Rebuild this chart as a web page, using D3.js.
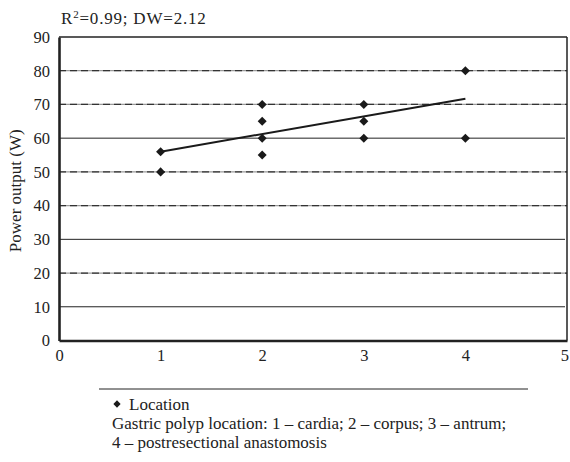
<!DOCTYPE html>
<html>
<head>
<meta charset="utf-8">
<script src="https://cdn.jsdelivr.net/npm/d3@7"></script>
<style>
  html, body { margin: 0; padding: 0; background: #fff; }
</style>
</head>
<body>
<svg id="chart" width="570" height="462"></svg>
<script>
// Polyp location (1-4) vs. power output (W)
const locations = [1, 1, 2, 2, 2, 2, 3, 3, 3, 4, 4];
const powerOutput = [56, 50, 70, 65, 60, 55, 70, 65, 60, 80, 60];
const trendX = [1, 4];
const trendY = [56, 71.7];
const xTicks = [0, 1, 2, 3, 4, 5];
const yTicks = [0, 10, 20, 30, 40, 50, 60, 70, 80, 90];
const dashedGrid = [20, 40, 50, 70, 80];
const legendLines = [
  "Gastric polyp location: 1 – cardia; 2 – corpus; 3 – antrum;",
  "4 – postresectional anastomosis"
];

(function () {
const FONT = "\"Liberation Serif\", \"Times New Roman\", serif";
const svg = d3.select("#chart");
const plotLeft = 59, plotRight = 567, plotTop = 37, plotBottom = 340.5;

const x = d3.scaleLinear().domain([0, 5]).range([plotLeft, plotRight]);
const y = d3.scaleLinear().domain([0, 90]).range([plotBottom, plotTop]);

function styleText(sel, size) {
  return sel.attr("font-family", FONT).style("font-family", FONT)
    .style("font-size", size || "17px").style("fill", "#222");
}

// horizontal gridlines
const grid = svg.append("g");
yTicks.filter(v => v > 0 && v < 90).forEach(v => {
  const dashed = dashedGrid.includes(v);
  if (dashed) {
    grid.append("line")
      .attr("x1", plotLeft).attr("x2", plotRight).attr("y1", y(v)).attr("y2", y(v))
      .attr("stroke", "#9a9a9a").attr("stroke-width", 1.3);
    grid.append("line")
      .attr("x1", plotLeft).attr("x2", plotRight).attr("y1", y(v)).attr("y2", y(v))
      .attr("stroke", "#333").attr("stroke-width", 1.3)
      .attr("stroke-dasharray", "7,4");
  } else {
    grid.append("line")
      .attr("x1", plotLeft).attr("x2", plotRight - 2).attr("y1", y(v)).attr("y2", y(v))
      .attr("stroke", "#222").attr("stroke-width", 1);
  }
});

// frame: top and right thin, left and bottom heavy
svg.append("line").attr("x1", plotLeft).attr("x2", plotRight).attr("y1", plotTop).attr("y2", plotTop)
  .attr("stroke", "#222").attr("stroke-width", 1.5);
svg.append("line").attr("x1", plotRight).attr("x2", plotRight).attr("y1", plotTop).attr("y2", plotBottom)
  .attr("stroke", "#222").attr("stroke-width", 1.5);

// y axis
const yAxis = svg.append("g")
  .attr("transform", `translate(${plotLeft},0)`)
  .call(d3.axisLeft(y).tickValues(yTicks).tickFormat(d3.format("d")).tickSize(0).tickPadding(9));
yAxis.attr("font-family", FONT);
yAxis.select(".domain").attr("stroke", "#222").attr("stroke-width", 2.6);
styleText(yAxis.selectAll("text"), "16.5px");

// x axis
const xAxis = svg.append("g")
  .attr("transform", `translate(0,${plotBottom})`)
  .call(d3.axisBottom(x).tickValues(xTicks).tickFormat(d3.format("d")).tickSize(0).tickPadding(9));
xAxis.attr("font-family", FONT);
xAxis.select(".domain").attr("stroke", "#222").attr("stroke-width", 2.4);
styleText(xAxis.selectAll("text"), "16.5px");
// last label sits against the right edge of the page
xAxis.selectAll(".tick").filter(d => d === 5).select("text")
  .attr("text-anchor", "end").attr("dx", "1.5");

// regression line
svg.append("line")
  .attr("x1", x(trendX[0])).attr("y1", y(trendY[0]))
  .attr("x2", x(trendX[1])).attr("y2", y(trendY[1]))
  .attr("stroke", "#1a1a1a").attr("stroke-width", 2);

// data points
const diamond = d3.symbol().type(d3.symbolDiamond2).size(52);
svg.append("g").selectAll("path")
  .data(locations.map((l, i) => [l, powerOutput[i]]))
  .join("path")
  .attr("d", diamond)
  .attr("transform", d => `translate(${x(d[0])},${y(d[1])})`)
  .attr("fill", "#1a1a1a");

// stats label with superscript
const stats = styleText(svg.append("text").attr("x", 61).attr("y", 24))
  .style("letter-spacing", "0.8px");
stats.append("tspan").text("R");
stats.append("tspan").attr("dy", -6).style("font-size", "11px").text("2");
stats.append("tspan").attr("dy", 6).text("=0.99; DW=2.12");

// y title
styleText(svg.append("text")
  .attr("transform", `translate(21,${(plotTop + plotBottom) / 2 + 2}) rotate(-90)`)
  .attr("text-anchor", "middle"))
  .text("Power output (W)");

// legend
svg.append("line").attr("x1", 99).attr("x2", 528).attr("y1", 389).attr("y2", 389)
  .attr("stroke", "#222").attr("stroke-width", 1);
svg.append("path").attr("d", d3.symbol().type(d3.symbolDiamond2).size(34))
  .attr("transform", "translate(117,404)").attr("fill", "#1a1a1a");
styleText(svg.append("text").attr("x", 129).attr("y", 410)).text("Location");
legendLines.forEach((t, i) => {
  styleText(svg.append("text").attr("x", 112).attr("y", 429 + i * 19)).text(t);
});
})();
</script>
</body>
</html>
